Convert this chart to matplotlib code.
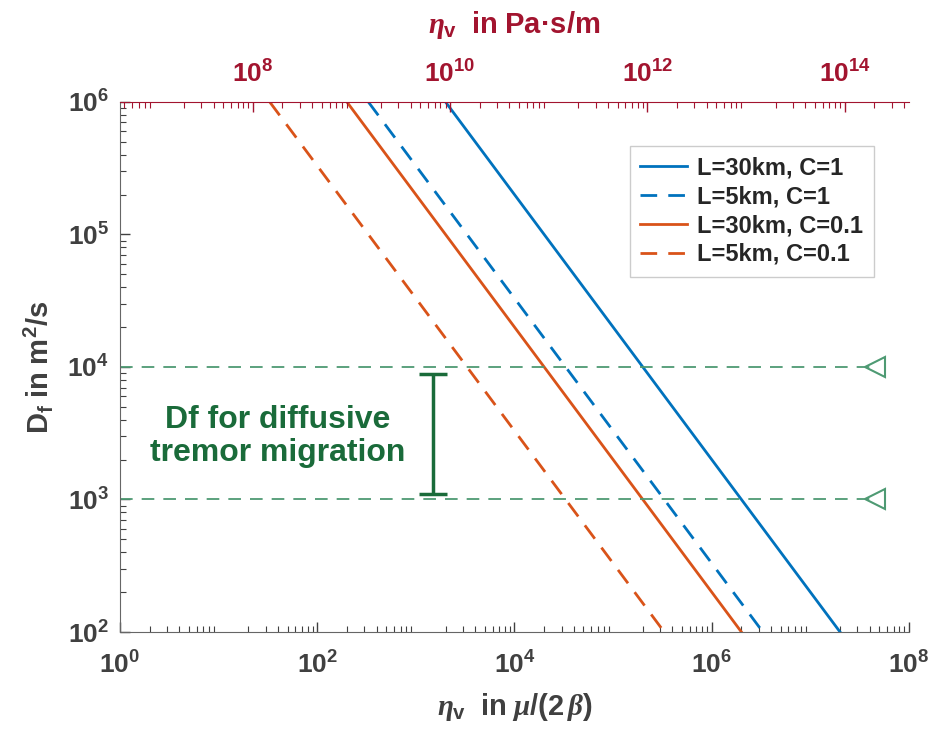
import numpy as np
import matplotlib
matplotlib.use('Agg')
from matplotlib import pyplot as plt
from matplotlib.ticker import FuncFormatter

# valores
D_ends = [1e6, 1e2]                       # Df (m^2/s) nas extremidades de cada reta
eta_L30_C1 = [2.0e3, 2.0e7]
eta_L5_C1 = [3.3e2, 3.3e6]
eta_L30_C01 = [2.0e2, 2.0e6]
eta_L5_C01 = [3.3e1, 3.3e5]
labels = ['L=30km, C=1', 'L=5km, C=1', 'L=30km, C=0.1', 'L=5km, C=0.1']

Df_limits = [1e3, 1e4]                    # faixa de Df para migração difusiva
line_x_end = 4.5e7
bar_x = 1.48e3
bar_low, bar_high = 1.1e3, 8.85e3
text_x, text_y = 40, 3.0e3

fator_top = 4.5e6                         # conversão mu/(2 beta) -> Pa.s/m

plt.rcParams['font.family'] = ['Liberation Sans', 'DejaVu Sans']
plt.rcParams['font.weight'] = 'bold'
plt.rcParams['mathtext.fontset'] = 'custom'
plt.rcParams['mathtext.rm'] = 'Liberation Sans:bold'
plt.rcParams['mathtext.bf'] = 'Liberation Sans:bold'
plt.rcParams['mathtext.it'] = 'Liberation Serif:italic:bold'

cinza = '#404040'
azul = '#0072BD'
laranja = '#D95319'
vermelho = '#A2142F'
verde_claro = '#4E9A73'
verde = '#1A6B3A'


def pot10(v, pos):
    return r'$\mathbf{10^{%d}}$' % int(round(np.log10(v)))


fig = plt.figure(figsize=(9.35, 7.32), dpi=100)
ax = fig.add_axes([0.1283, 0.1366, 0.8439, 0.7241])

ax.plot(eta_L30_C1, D_ends, color=azul, lw=2, ls='-', label=labels[0])
ax.plot(eta_L5_C1, D_ends, color=azul, lw=2, ls=(0, (6, 4)), label=labels[1])
ax.plot(eta_L30_C01, D_ends, color=laranja, lw=2, ls='-', label=labels[2])
ax.plot(eta_L5_C01, D_ends, color=laranja, lw=2, ls=(0, (6, 4)), label=labels[3])

for d in Df_limits:
    ax.plot([1, line_x_end], [d, d], color=verde_claro, lw=1.3, ls=(0, (7, 5)))
    ax.plot([line_x_end], [d], marker='<', ms=14, mfc='none', mec=verde_claro, mew=1.5)

centro = np.sqrt(bar_low * bar_high)
ax.errorbar([bar_x], [centro], yerr=[[centro - bar_low], [bar_high - centro]],
            color=verde, lw=2.5, capsize=10, capthick=2.5)

ax.text(text_x, text_y, 'Df for diffusive\ntremor migration', color=verde,
        fontsize=23, fontweight='bold', ha='center', va='center', linespacing=1.15)

ax.set_xscale('log')
ax.set_yscale('log')
ax.set_xlim(1, 1e8)
ax.set_ylim(1e2, 1e6)
ax.set_xticks([1, 1e2, 1e4, 1e6, 1e8])
ax.set_yticks([1e2, 1e3, 1e4, 1e5, 1e6])
ax.xaxis.set_major_formatter(FuncFormatter(pot10))
ax.yaxis.set_major_formatter(FuncFormatter(pot10))
ax.tick_params(which='both', direction='in', colors=cinza, labelsize=19, top=False, right=False)
ax.tick_params(which='major', length=7, width=1)
ax.tick_params(axis='x', which='major', pad=14)
ax.tick_params(axis='y', which='major', pad=8)
ax.tick_params(which='minor', length=4, width=0.8)
for s in ['left', 'bottom']:
    ax.spines[s].set_color('#666666')
ax.spines['right'].set_visible(False)
ax.spines['top'].set_visible(False)

ax.set_xlabel(r'$\eta_{\mathbf{v}}\ \ \mathbf{in}\ \mu\mathbf{/(2}\,\beta\mathbf{)}$',
              fontsize=21, color=cinza, labelpad=9)
ax.set_ylabel(r'$\mathbf{D_f\ in\ m^2/s}$', fontsize=21, color=cinza, labelpad=9)

leg = ax.legend(loc='upper right', bbox_to_anchor=(0.97, 0.94), fontsize=17,
                fancybox=False, framealpha=1, edgecolor='#cccccc', handlelength=2.0,
                borderpad=0.45, labelspacing=0.25, handletextpad=0.4)
for t in leg.get_texts():
    t.set_color('#262626')

# eixo superior em Pa.s/m
ax2 = ax.twiny()
ax2.set_xscale('log')
ax2.set_xlim(1 * fator_top, 1e8 * fator_top)
ax2.set_xticks([1e8, 1e10, 1e12, 1e14])
ax2.xaxis.set_major_formatter(FuncFormatter(pot10))
ax2.tick_params(which='both', direction='in', colors=vermelho, labelsize=19)
ax2.tick_params(which='major', length=7, width=1, pad=10)
ax2.tick_params(which='minor', length=4, width=0.8)
ax2.spines['top'].set_color(vermelho)
for s in ['left', 'right', 'bottom']:
    ax2.spines[s].set_visible(False)
ax2.set_xlabel(r'$\eta_{\mathbf{v}}\ \ \mathbf{in\ Pa{·}s/m}$', fontsize=21,
               color=vermelho, labelpad=20)

plt.savefig('out.png', dpi=100)
